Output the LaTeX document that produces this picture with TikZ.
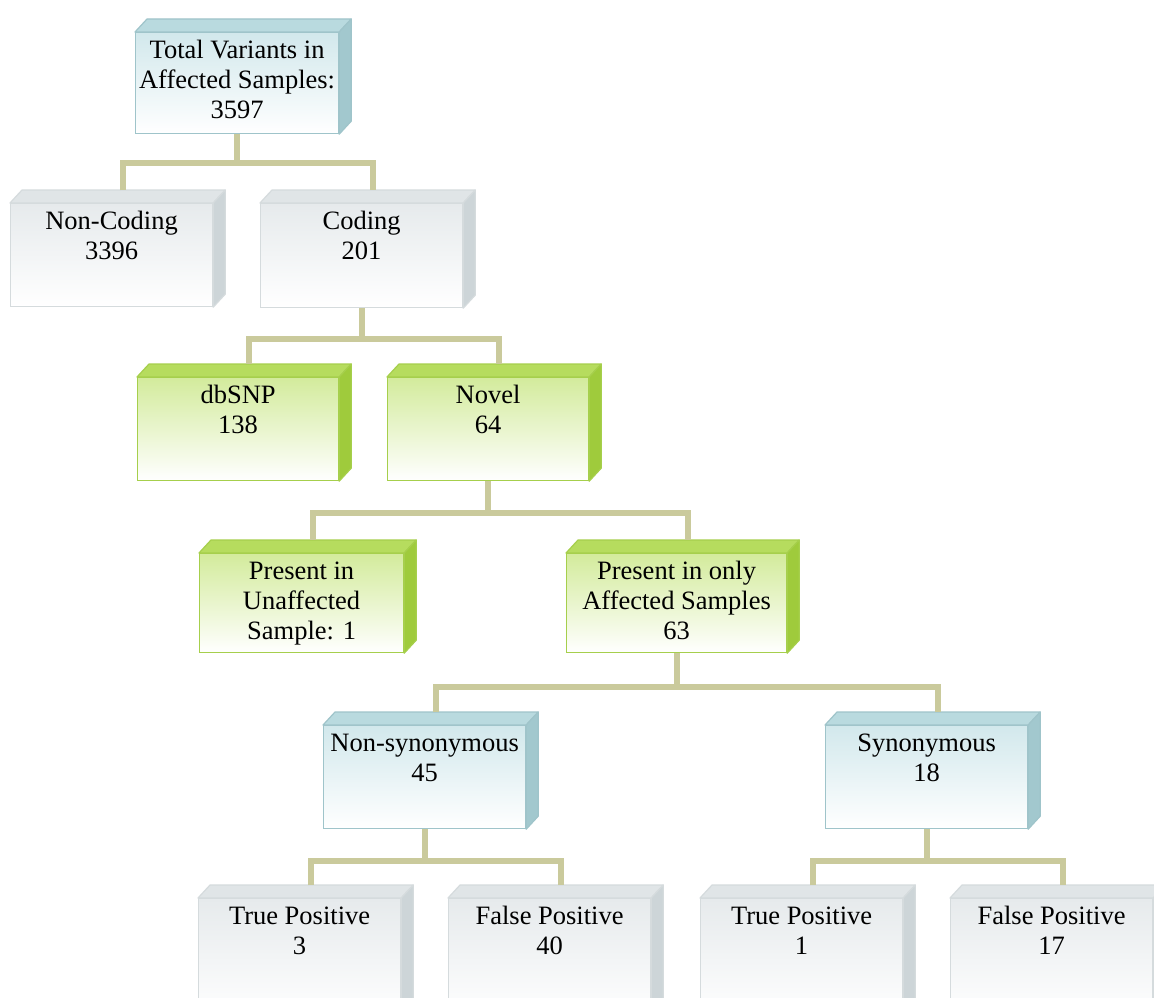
\documentclass[tikz,border=0pt]{standalone}
\usepackage{fontspec}
\setmainfont{Liberation Serif}
\definecolor{conncol}{HTML}{CACA9C}
\definecolor{bfr}{HTML}{D2E8EC}
\definecolor{btp}{HTML}{B9DADF}
\definecolor{bsd}{HTML}{A2C8CE}
\definecolor{bbd}{HTML}{9FC4CA}
\definecolor{wfr}{HTML}{E6EAEC}
\definecolor{wtp}{HTML}{E0E5E7}
\definecolor{wsd}{HTML}{CDD5D8}
\definecolor{wbd}{HTML}{D5DBDD}
\definecolor{gfr}{HTML}{D3EB9C}
\definecolor{gtp}{HTML}{B6DC5E}
\definecolor{gsd}{HTML}{9FCB3C}
\definecolor{gbd}{HTML}{A6CF4C}
\tikzset{
  conn/.style={draw=conncol, line width=6pt, line join=miter},
  bfront/.style={draw=bbd, line width=1.2pt, top color=bfr, bottom color=white, inner sep=0pt},
  btop/.style={draw=bbd, line width=1.2pt, fill=btp, line join=round},
  bside/.style={draw=bbd, line width=1.2pt, fill=bsd, line join=round},
  wfront/.style={draw=wbd, line width=1.2pt, top color=wfr, bottom color=white, inner sep=0pt},
  wtop/.style={draw=wbd, line width=1.2pt, fill=wtp, line join=round},
  wside/.style={draw=wbd, line width=1.2pt, fill=wsd, line join=round},
  gfront/.style={draw=gbd, line width=1.2pt, top color=gfr, bottom color=white, inner sep=0pt},
  gtop/.style={draw=gbd, line width=1.2pt, fill=gtp, line join=round},
  gside/.style={draw=gbd, line width=1.2pt, fill=gsd, line join=round},
}
\newcommand{\dpx}{12}
\newcommand{\dpy}{13}
% #1 name, #2 kind (b/w/g), #3 x, #4 y, #5 width, #6 height, #7 text
\newcommand{\mkcube}[7]{%
  \node[#2front, anchor=north west] (#1) at (#3,-#4)
    {\parbox[t][#6pt][t]{#5pt}{\centering\fontsize{26.5}{30}\selectfont\rule{0pt}{26pt}#7}};
  \filldraw[#2top] (#1.north west) -- ++(\dpx,\dpy) -- ([shift={(\dpx,\dpy)}]#1.north east) -- (#1.north east) -- cycle;
  \filldraw[#2side] (#1.north east) -- ++(\dpx,\dpy) -- ([shift={(\dpx,\dpy)}]#1.south east) -- (#1.south east) -- cycle;
}
\begin{document}
\begin{tikzpicture}[x=1pt,y=1pt]
\clip (0,0) rectangle (1154,-998);
\fill[white] (0,0) rectangle (1154,-998);

\mkcube{tot}{b}{135}{32}{203}{101}{Total Variants in\\Affected Samples:\\3597}
\mkcube{nc}{w}{10}{203}{202}{103}{Non-Coding\\3396}
\mkcube{cod}{w}{260}{203}{202}{104}{Coding\\201}
\mkcube{db}{g}{137}{377}{201}{103}{dbSNP\\138}
\mkcube{nov}{g}{387}{377}{201}{103}{Novel\\64}
\mkcube{unaf}{g}{199}{553}{204}{99}{Present in\\Unaffected\\Sample: 1}
\mkcube{aff}{g}{566}{553}{220}{99}{Present in only\\Affected Samples\\63}
\mkcube{ns}{b}{323}{725}{202}{103}{Non-synonymous\\45}
\mkcube{syn}{b}{825}{725}{202}{103}{Synonymous\\18}
\mkcube{tpa}{w}{198}{898}{202}{120}{True Positive\\3}
\mkcube{fpa}{w}{448}{898}{202}{120}{False Positive\\40}
\mkcube{tpb}{w}{700}{898}{202}{120}{True Positive\\1}
\mkcube{fpb}{w}{950}{898}{202}{120}{False Positive\\17}

% connectors
\draw[conn] (tot.south) -- ++(0,-29) coordinate (j1);
\draw[conn] ([shift={(11,13)}]nc.north) |- (j1) -| ([shift={(11,13)}]cod.north);
\draw[conn] (cod.south) -- ++(0,-31) coordinate (j2);
\draw[conn] ([shift={(11,13)}]db.north) |- (j2) -| ([shift={(11,13)}]nov.north);
\draw[conn] (nov.south) -- ++(0,-32) coordinate (j3);
\draw[conn] ([shift={(11,13)}]unaf.north) |- (j3) -| ([shift={(11,13)}]aff.north);
\draw[conn] (aff.south) -- ++(0,-34) coordinate (j4);
\draw[conn] ([shift={(11,13)}]ns.north) |- (j4) -| ([shift={(11,13)}]syn.north);
\draw[conn] (ns.south) -- ++(0,-32) coordinate (j5);
\draw[conn] ([shift={(11,13)}]tpa.north) |- (j5) -| ([shift={(11,13)}]fpa.north);
\draw[conn] (syn.south) -- ++(0,-32) coordinate (j6);
\draw[conn] ([shift={(11,13)}]tpb.north) |- (j6) -| ([shift={(11,13)}]fpb.north);
\end{tikzpicture}
\end{document}
